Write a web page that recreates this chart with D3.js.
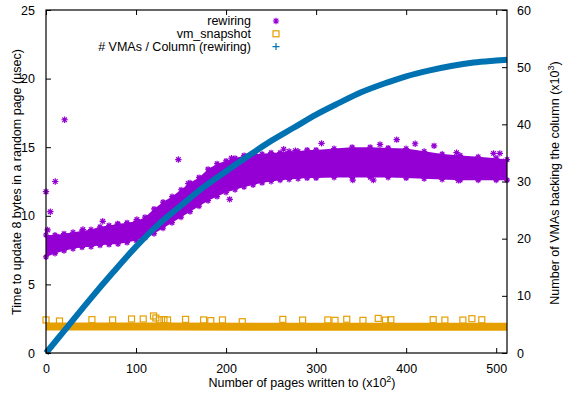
<!DOCTYPE html>
<html>
<head>
<meta charset="utf-8">
<script src="https://cdn.jsdelivr.net/npm/d3@7"></script>
<style>
  body { margin: 0; background: #fff; }
  text { font-family: "Liberation Sans", Arial, sans-serif; font-size: 12.5px; fill: #000; }
</style>
</head>
<body>
<div id="chart"></div>
<script>
// Tick values
const xTicks = [0, 100, 200, 300, 400, 500];
const yTicks = [0, 5, 10, 15, 20, 25];
const y2Ticks = [0, 10, 20, 30, 40, 50, 60];

// rewiring: envelope of the dense cloud (x10^2 pages, usec)
const rewX    = [0, 10, 20, 30, 40, 50, 60, 70, 80, 90, 100, 110, 120, 130, 140, 150, 160, 170, 180, 190, 200,
                 210, 220, 230, 240, 250, 260, 270, 280, 290, 300, 320, 340, 360, 380, 400, 420, 440, 460, 480, 500, 512];
const rewLow  = [7.0, 7.25, 7.45, 7.6, 7.7, 7.75, 7.85, 7.9, 7.95, 8.05, 8.2, 8.4, 8.7, 9.1, 9.5, 9.9, 10.3, 10.7, 11.1, 11.4, 11.7,
                 11.9, 12.1, 12.25, 12.4, 12.5, 12.6, 12.65, 12.7, 12.75, 12.75, 12.8, 12.8, 12.8, 12.8, 12.75, 12.7, 12.65, 12.6, 12.6, 12.6, 12.6];
const rewHigh = [8.6, 8.6, 8.7, 8.8, 8.9, 9.0, 9.2, 9.3, 9.4, 9.5, 9.6, 9.9, 10.5, 11.0, 11.4, 11.9, 12.4, 12.8, 13.4, 13.8, 14.0,
                 14.2, 14.4, 14.5, 14.5, 14.6, 14.6, 14.7, 14.7, 14.8, 14.8, 14.9, 15.0, 15.0, 14.95, 14.9, 14.7, 14.5, 14.4, 14.3, 14.2, 14.1];
// rewiring: isolated points
const rewOutX = [0, 10.3, 20.7, 4.8, 1.8, 11.4, 41, 63, 79.5, 101, 147, 158, 184, 204, 206, 232, 264, 277, 306,
                 340.7, 363.6, 371, 389.5, 410, 431, 456, 458, 497, 504, 508];
const rewOutY = [11.76, 12.5, 17.0, 10.3, 8.97, 8.5, 9.0, 9.6, 9.4, 9.74, 14.1, 12.35, 13.3, 11.2, 14.2, 14.4, 14.85, 14.75, 15.28,
                 12.6, 12.6, 15.2, 15.55, 15.25, 15.1, 14.6, 12.58, 14.55, 14.55, 13.94];

// vm_snapshot: main band and isolated points
const vmX = [0, 128, 256, 384, 512];
const vmY = [1.93, 1.93, 1.92, 1.92, 1.92];
const vmOutX = [0, 15, 51, 74, 95, 108, 119.4, 122, 126, 131, 135, 155, 175, 183, 196, 218,
                263, 285, 313, 321, 334, 352, 369, 377, 383, 430, 443, 463, 473, 484];
const vmOutY = [2.41, 2.33, 2.43, 2.41, 2.48, 2.48, 2.7, 2.55, 2.41, 2.43, 2.41, 2.45, 2.41, 2.36, 2.41, 2.28,
                2.45, 2.4, 2.41, 2.38, 2.46, 2.38, 2.52, 2.4, 2.42, 2.43, 2.4, 2.4, 2.5, 2.42];

// # VMAs / Column (x10^3)
const vmaX = [0, 25, 50, 75, 100, 125, 150, 175, 200, 225, 250, 275, 300, 325, 350, 375, 400, 425, 450, 475, 500, 512];
const vmaY = [0, 4.8, 9.6, 14.2, 18.6, 22.5, 25.8, 29.0, 31.8, 34.5, 37.1, 39.4, 41.7, 43.7, 45.6, 47.1, 48.4, 49.4, 50.2, 50.8, 51.15, 51.3];

const purple = "#9400d3", orange = "#e69f00", blue = "#0072b2";

const W = 563, H = 393;
const margin = { top: 10, right: 56, bottom: 40, left: 46 };
const width = W - margin.left - margin.right;
const height = H - margin.top - margin.bottom;

const svg = d3.select("#chart").append("svg")
    .attr("width", W).attr("height", H);
const g = svg.append("g").attr("transform", `translate(${margin.left},${margin.top})`);

const x = d3.scaleLinear().domain([0, 512]).range([0, width]);
const y = d3.scaleLinear().domain([0, 25]).range([height, 0]);
const y2 = d3.scaleLinear().domain([0, 60]).range([height, 0]);

// marker shapes
function asterisk(s) {
    const d = s * 0.72;
    return `M${-s},0H${s}M0,${-s}V${s}M${-d},${-d}L${d},${d}M${-d},${d}L${d},${-d}`;
}
function plus(s) { return `M${-s},0H${s}M0,${-s}V${s}`; }

// rewiring
const rew = rewX.map((v, i) => ({ x: v, lo: rewLow[i], hi: rewHigh[i] }));
g.append("path").datum(rew)
    .attr("fill", purple)
    .attr("d", d3.area().x(d => x(d.x)).y0(d => y(d.lo)).y1(d => y(d.hi)));
const edgePts = rew.flatMap(d => [{ x: d.x, v: d.lo }, { x: d.x, v: d.hi }]);
g.selectAll(".rew-edge").data(edgePts).enter().append("path")
    .attr("transform", d => `translate(${x(d.x)},${y(d.v)})`)
    .attr("d", asterisk(3)).attr("stroke", purple).attr("stroke-width", 1.2).attr("fill", "none");
const rewOut = rewOutX.map((v, i) => ({ x: v, v: rewOutY[i] }));
g.selectAll(".rew-out").data(rewOut).enter().append("path")
    .attr("transform", d => `translate(${x(d.x)},${y(d.v)})`)
    .attr("d", asterisk(3.2)).attr("stroke", purple).attr("stroke-width", 1.2).attr("fill", "none");

// vm_snapshot
const vm = vmX.map((v, i) => ({ x: v, v: vmY[i] }));
g.append("path").datum(vm)
    .attr("fill", "none").attr("stroke", orange).attr("stroke-width", 8)
    .attr("d", d3.line().x(d => x(d.x)).y(d => y(d.v)));
const vmOut = vmOutX.map((v, i) => ({ x: v, v: vmOutY[i] }));
g.selectAll(".vm-out").data(vmOut).enter().append("rect")
    .attr("x", d => x(d.x) - 3).attr("y", d => y(d.v) - 3)
    .attr("width", 6).attr("height", 6)
    .attr("fill", "none").attr("stroke", orange).attr("stroke-width", 1.2);

// # VMAs / Column
const vma = vmaX.map((v, i) => ({ x: v, v: vmaY[i] }));
g.append("path").datum(vma)
    .attr("fill", "none").attr("stroke", blue).attr("stroke-width", 6)
    .attr("d", d3.line().x(d => x(d.x)).y(d => y2(d.v)).curve(d3.curveMonotoneX));

// axes (ticks inward, gnuplot style)
const tick = 5;
g.append("g").attr("transform", `translate(0,${height})`)
    .call(d3.axisBottom(x).tickValues(xTicks).tickSize(-tick).tickPadding(tick + 6));
g.append("g")
    .call(d3.axisTop(x).tickValues(xTicks).tickSize(-tick).tickFormat(""));
g.append("g")
    .call(d3.axisLeft(y).tickValues(yTicks).tickSize(-tick).tickPadding(tick + 6));
g.append("g").attr("transform", `translate(${width},0)`)
    .call(d3.axisRight(y2).tickValues(y2Ticks).tickSize(-tick).tickPadding(tick + 5));
g.selectAll(".domain").remove();
g.selectAll(".tick line").attr("stroke", "#000");
g.selectAll(".tick text").attr("font-size", null).attr("font-family", null);

g.append("rect").attr("width", width).attr("height", height)
    .attr("fill", "none").attr("stroke", "#000").attr("stroke-width", 1.2);

// axis labels
svg.append("text")
    .attr("transform", "translate(21,182) rotate(-90)")
    .attr("text-anchor", "middle")
    .text("Time to update 8 bytes in a random page (µsec)");
const r = svg.append("text")
    .attr("transform", "translate(559,183) rotate(-90)")
    .attr("text-anchor", "middle");
r.append("tspan").text("Number of VMAs backing the column (x10");
r.append("tspan").attr("dy", -5).attr("font-size", "9px").text("3");
r.append("tspan").attr("dy", 5).text(")");
const xl = svg.append("text")
    .attr("x", 302).attr("y", 387)
    .attr("text-anchor", "middle");
xl.append("tspan").text("Number of pages written to (x10");
xl.append("tspan").attr("dy", -5).attr("font-size", "9px").text("2");
xl.append("tspan").attr("dy", 5).text(")");

// legend
const legend = [
    { name: "rewiring", color: purple, kind: "ast" },
    { name: "vm_snapshot", color: orange, kind: "sq" },
    { name: "# VMAs / Column (rewiring)", color: blue, kind: "plus" }
];
const lg = svg.append("g").selectAll("g").data(legend).enter().append("g")
    .attr("transform", (d, i) => `translate(0,${21 + i * 12.8})`);
lg.append("text").attr("x", 251).attr("dy", "0.35em").attr("text-anchor", "end").text(d => d.name);
lg.filter(d => d.kind === "ast").append("path")
    .attr("transform", "translate(276,0)").attr("d", asterisk(3.2))
    .attr("stroke", d => d.color).attr("stroke-width", 1.2).attr("fill", "none");
lg.filter(d => d.kind === "sq").append("rect")
    .attr("x", 273).attr("y", -3).attr("width", 6).attr("height", 6)
    .attr("stroke", d => d.color).attr("stroke-width", 1.2).attr("fill", "none");
lg.filter(d => d.kind === "plus").append("path")
    .attr("transform", "translate(276,0)").attr("d", plus(3.5))
    .attr("stroke", d => d.color).attr("stroke-width", 1.2).attr("fill", "none");
</script>
</body>
</html>
